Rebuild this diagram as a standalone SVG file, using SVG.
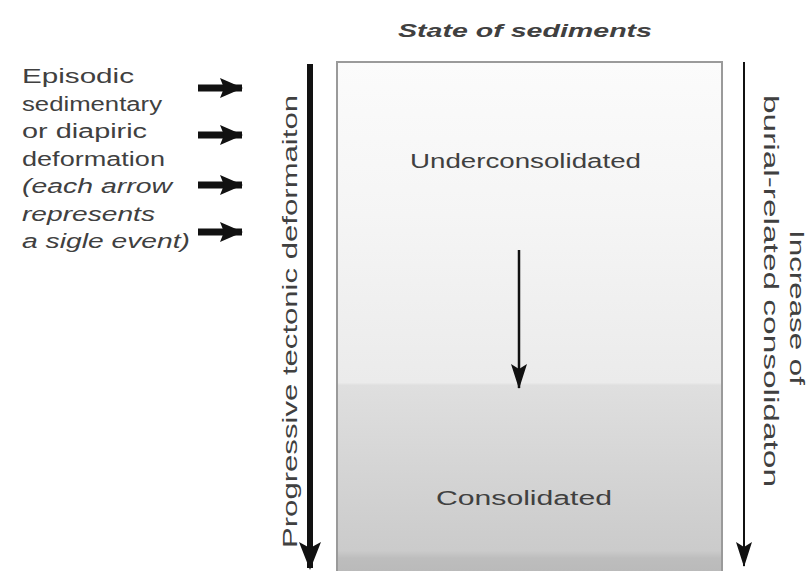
<svg xmlns="http://www.w3.org/2000/svg" width="809" height="571" viewBox="0 0 809 571">
<defs>
<linearGradient id="sed" gradientUnits="userSpaceOnUse" x1="0" y1="62" x2="0" y2="571">
<stop offset="0" stop-color="#fbfbfb"/>
<stop offset="0.3" stop-color="#f5f5f5"/>
<stop offset="0.63" stop-color="#ebebeb"/>
<stop offset="0.635" stop-color="#dfdfdf"/>
<stop offset="0.96" stop-color="#cbcbcb"/>
<stop offset="0.975" stop-color="#bdbdbd"/>
<stop offset="1" stop-color="#bababa"/>
</linearGradient>
<marker id="hBig" markerUnits="userSpaceOnUse" markerWidth="30" markerHeight="26" refX="26" refY="13" orient="auto" viewBox="0 0 30 26">
<path d="M0,2 L28,13 L0,24 L6,13 Z" fill="#111"/>
</marker>
<marker id="hMid" markerUnits="userSpaceOnUse" markerWidth="26" markerHeight="20" refX="24" refY="10" orient="auto" viewBox="0 0 26 20">
<path d="M0,2 L25,10 L0,18 L5,10 Z" fill="#111"/>
</marker>
<marker id="hSmall" markerUnits="userSpaceOnUse" markerWidth="24" markerHeight="24" refX="22" refY="12" orient="auto" viewBox="0 0 24 24">
<path d="M0,2 L23,12 L0,22 L4,12 Z" fill="#111"/>
</marker>
</defs>
<style>
text{font-family:"Liberation Sans",Arial,sans-serif;fill:#404040;}
.lbl{font-size:20px;}
.it{font-style:italic;}
</style>
<rect width="809" height="571" fill="#ffffff"/>
<g id="title"><text x="398" y="37" font-size="19" font-style="italic" font-weight="bold" fill="#333" textLength="254" lengthAdjust="spacingAndGlyphs">State of sediments</text></g>
<g id="sediment-box">
<rect x="337" y="62" width="385" height="512" fill="url(#sed)" stroke="#9a9a9a" stroke-width="2"/>
<text x="410" y="168" class="lbl" textLength="231" lengthAdjust="spacingAndGlyphs">Underconsolidated</text>
<text x="436" y="505" class="lbl" textLength="176" lengthAdjust="spacingAndGlyphs">Consolidated</text>
</g>
<g id="episodic-label">
<text x="22" y="83" class="lbl" textLength="112" lengthAdjust="spacingAndGlyphs">Episodic</text>
<text x="22" y="111" class="lbl" textLength="140" lengthAdjust="spacingAndGlyphs">sedimentary</text>
<text x="22" y="138" class="lbl" textLength="125" lengthAdjust="spacingAndGlyphs">or diapiric</text>
<text x="22" y="166" class="lbl" textLength="143" lengthAdjust="spacingAndGlyphs">deformation</text>
<text x="22" y="193" class="lbl it" textLength="150" lengthAdjust="spacingAndGlyphs">(each arrow</text>
<text x="22" y="221" class="lbl it" textLength="133" lengthAdjust="spacingAndGlyphs">represents</text>
<text x="22" y="248" class="lbl it" textLength="168" lengthAdjust="spacingAndGlyphs">a sigle event)</text>
</g>
<g id="tectonic-label"><text transform="translate(297,548) rotate(-90)" class="lbl" textLength="453" lengthAdjust="spacingAndGlyphs">Progressive tectonic deformaiton</text></g>
<g id="burial-label">
<text transform="translate(790,230) rotate(90)" class="lbl" textLength="155" lengthAdjust="spacingAndGlyphs">Increase of</text>
<text transform="translate(764,95) rotate(90)" class="lbl" textLength="392" lengthAdjust="spacingAndGlyphs">burial-related consolidaton</text>
</g>
<g id="connectors" fill="none" stroke="#111">
<line x1="310" y1="64" x2="310" y2="568" stroke-width="6" marker-end="url(#hBig)"/>
<line x1="744" y1="62" x2="744" y2="566" stroke-width="2" marker-end="url(#hMid)"/>
<line x1="519" y1="250" x2="519" y2="388" stroke-width="2.5" marker-end="url(#hMid)"/>
<line x1="198" y1="88" x2="242" y2="88" stroke-width="7" marker-end="url(#hSmall)"/>
<line x1="198" y1="135" x2="242" y2="135" stroke-width="7" marker-end="url(#hSmall)"/>
<line x1="198" y1="185" x2="242" y2="185" stroke-width="7" marker-end="url(#hSmall)"/>
<line x1="198" y1="232" x2="242" y2="232" stroke-width="7" marker-end="url(#hSmall)"/>
</g>
</svg>
